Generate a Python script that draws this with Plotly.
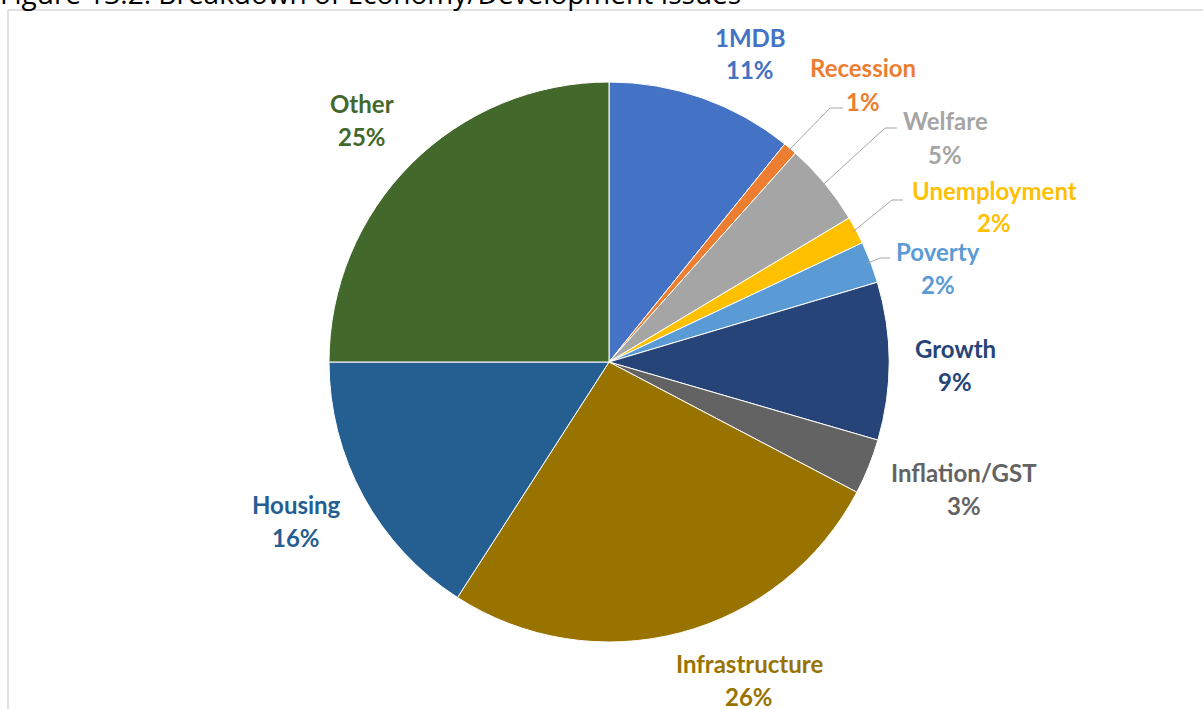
import math
import plotly.graph_objects as go

W, H = 1203, 709

# data
labels = ["1MDB", "Recession", "Welfare", "Unemployment", "Poverty",
          "Growth", "Inflation/GST", "Infrastructure", "Housing", "Other"]
values = [10.8, 0.8, 4.8, 1.6, 2.4, 9.1, 3.2, 26.4, 15.9, 25.0]
colors = ["#4472C4", "#ED7D31", "#A5A5A5", "#FFC000", "#5B9BD5",
          "#264478", "#636363", "#997300", "#255E91", "#43682B"]

# label placement (pixel centres of the name line)
label_pos = {
    "1MDB": (750, 37), "Recession": (863, 68), "Welfare": (945, 121),
    "Unemployment": (994, 190), "Poverty": (938, 251), "Growth": (955, 348),
    "Inflation/GST": (964, 472), "Infrastructure": (749, 663),
    "Housing": (296, 504), "Other": (362, 103),
}
# leader line elbows for the small slices (elbow, end)
leaders = {
    "Recession": ((830, 108), (843, 108)),
    "Welfare": ((885, 128), (897, 128)),
    "Unemployment": ((892, 200), (903, 200)),
    "Poverty": ((880, 258), (890, 258)),
}

CX, CY, R = 609, 362, 280
FONT = "Lato"


def px(x, y):
    return x / W, 1 - y / H


fig = go.Figure()
fig.add_trace(go.Pie(
    labels=labels, values=values, sort=False, direction="clockwise", rotation=0,
    marker=dict(colors=colors, line=dict(color="white", width=1)),
    textinfo="none", hoverinfo="label+percent", showlegend=False,
    domain=dict(x=[(CX - R) / W, (CX + R) / W], y=[(H - CY - R) / H, (H - CY + R) / H]),
))

total = sum(values)
annotations = []
shapes = []
cum = 0
for name, v, c in zip(labels, values, colors):
    mid = (cum + v / 2) / total * 2 * math.pi
    cum += v
    lx, ly = label_pos[name]
    pct = f"{round(v / total * 100)}%"
    for txt, yy in ((name, ly), (pct, ly + 33)):
        ax, ay = px(lx, yy)
        annotations.append(dict(
            x=ax, y=ay, xref="paper", yref="paper", text=txt, showarrow=False,
            xanchor="center", yanchor="middle",
            font=dict(family=FONT, size=24, color=c, weight="bold"),
        ))
    if name in leaders:
        sx = CX + (R - 4) * math.sin(mid)
        sy = CY - (R - 4) * math.cos(mid)
        (ex, ey), (fx, fy) = leaders[name]
        path = "M {} {} L {} {} L {} {}".format(*px(sx, sy), *px(ex, ey), *px(fx, fy))
        shapes.append(dict(type="path", xref="paper", yref="paper", path=path,
                           line=dict(color="#A6A6A6", width=1)))

# chart border
shapes.append(dict(type="rect", xref="paper", yref="paper",
                   x0=8 / W, x1=1.01, y0=-0.02, y1=1 - 10 / H,
                   line=dict(color="#D9D9D9", width=1.5), layer="below"))

# title (cut off at the top like the source)
annotations.append(dict(
    x=-2 / W, y=1 - 14 / H, xref="paper", yref="paper", xanchor="left", yanchor="bottom",
    text="Figure 13.2: Breakdown of Economy/Development Issues", showarrow=False,
    font=dict(family="Open Sans", size=28, color="black"),
))

fig.update_layout(
    width=W, height=H, margin=dict(l=0, r=0, t=0, b=0),
    paper_bgcolor="white", plot_bgcolor="white",
    annotations=annotations, shapes=shapes,
)

fig.write_html("out.html", config={"displayModeBar": False},
               post_script="document.body.style.margin='0';")
